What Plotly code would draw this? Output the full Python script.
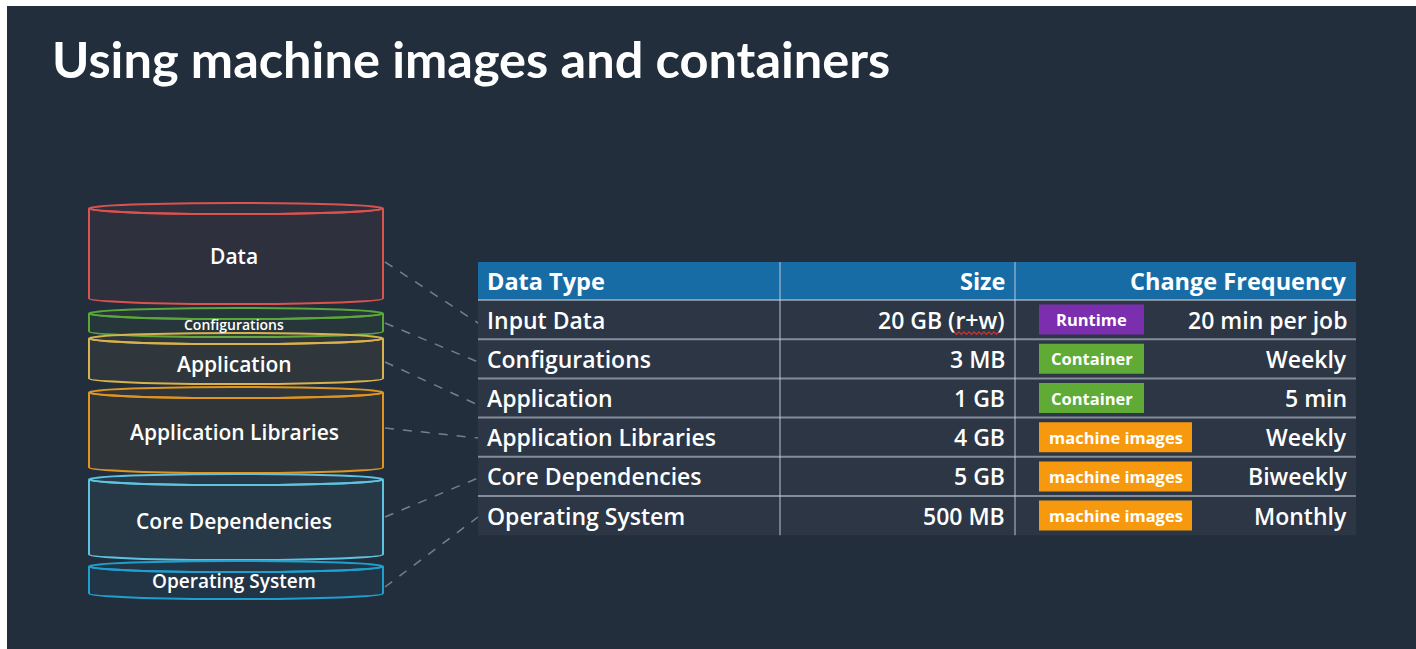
import plotly.graph_objects as go

# ---------------- data ----------------
title_text = "Using machine images and containers"

layer_names = ["Data", "Configurations", "Application", "Application Libraries",
               "Core Dependencies", "Operating System"]

headers = ["Data Type", "Size", "Change Frequency"]
data_types = ["Input Data", "Configurations", "Application", "Application Libraries",
              "Core Dependencies", "Operating System"]
sizes = ["20 GB (r+w)", "3 MB", "1 GB", "4 GB", "5 GB", "500 MB"]
badges = ["Runtime", "Container", "Container", "machine images", "machine images", "machine images"]
frequencies = ["20 min per job", "Weekly", "5 min", "Weekly", "Biweekly", "Monthly"]

# ---------------- layout / style ----------------
W, H = 1416, 649
BG = "#232e3c"
TITLE_FONT = "Lato"
FONT = "Open Sans"

layer_style = {
    "colors": ["#d9534f", "#5aa83a", "#d8b24c", "#df951f", "#5ec3e0", "#1ea0cf"],
    "top": [203, 308, 333, 387, 474, 561],
    "bottom": [304, 337, 384, 473, 560, 599],
    "font_size": [21, 14, 21, 21, 21, 19],
    "label_y": [256, 324, 364, 432, 521, 581],
}
cyl_x0, cyl_x1, ry = 89, 383, 5.5

conn_start = [262, 323, 362, 428, 517, 587]
conn_end = [323, 362, 405, 438, 478, 517]

tbl_x0, tbl_x1 = 478, 1356
col_lines = [780, 1015]
head_y0, head_y1 = 262, 300
row_h = 39.2
col1_x, col2_r, col3_r = 485, 1007, 1349
badge_x0, badge_h = 1039, 30
badge_w = {"Runtime": 105, "Container": 105, "machine images": 153}
badge_col = {"Runtime": "#7b2fae", "Container": "#5fab36", "machine images": "#f7990f"}

fig = go.Figure(go.Scatter(x=[], y=[], hoverinfo="skip"))
shapes, annos = [], []

# slide background
shapes.append(dict(type="rect", x0=7, x1=W, y0=6, y1=H, fillcolor=BG, line=dict(width=0), layer="below"))

# title
annos.append(dict(x=50, y=58, text="<b>" + title_text + "</b>", xanchor="left", yanchor="middle",
                  font=dict(family=TITLE_FONT, size=50.5, color="white")))


def rgba(hexc, a):
    h = hexc.lstrip("#")
    r, g, b = int(h[0:2], 16), int(h[2:4], 16), int(h[4:6], 16)
    return f"rgba({r},{g},{b},{a})"


# cylinders
k = 0.5523
xc = (cyl_x0 + cyl_x1) / 2
rx = (cyl_x1 - cyl_x0) / 2
for i, name in enumerate(layer_names):
    c = layer_style["colors"][i]
    yt = layer_style["top"][i] + ry
    yb = layer_style["bottom"][i] - ry
    body = (f"M {cyl_x0},{yt} L {cyl_x0},{yb} "
            f"C {cyl_x0},{yb + k * ry} {xc - k * rx},{yb + ry} {xc},{yb + ry} "
            f"C {xc + k * rx},{yb + ry} {cyl_x1},{yb + k * ry} {cyl_x1},{yb} "
            f"L {cyl_x1},{yt} "
            f"C {cyl_x1},{yt + k * ry} {xc + k * rx},{yt + ry} {xc},{yt + ry} "
            f"C {xc - k * rx},{yt + ry} {cyl_x0},{yt + k * ry} {cyl_x0},{yt} Z")
    shapes.append(dict(type="path", path=body, fillcolor=rgba(c, 0.07), line=dict(color=c, width=2)))
    shapes.append(dict(type="circle", x0=cyl_x0, x1=cyl_x1, y0=yt - ry, y1=yt + ry,
                       fillcolor=rgba(c, 0.07), line=dict(color=c, width=2)))
    annos.append(dict(x=xc - 2, y=layer_style["label_y"][i], text=name, xanchor="center", yanchor="middle",
                      font=dict(family=FONT, size=layer_style["font_size"][i], color="white", weight=600)))

# connectors
for i in range(len(layer_names)):
    shapes.append(dict(type="line", x0=cyl_x1 + 2, y0=conn_start[i], x1=tbl_x0, y1=conn_end[i],
                       line=dict(color="rgba(140,155,172,0.75)", width=1.5, dash="dash")))

# table
n = len(data_types)
tbl_y1 = head_y1 + n * row_h
shapes.append(dict(type="rect", x0=tbl_x0, x1=tbl_x1, y0=head_y1, y1=tbl_y1,
                   fillcolor="#2c3645", line=dict(width=0)))
shapes.append(dict(type="rect", x0=tbl_x0, x1=tbl_x1, y0=head_y0, y1=head_y1,
                   fillcolor="#176ca6", line=dict(width=0)))
for r in range(n):
    yl = head_y1 + r * row_h
    shapes.append(dict(type="line", x0=tbl_x0, x1=tbl_x1, y0=yl, y1=yl,
                       line=dict(color="rgba(190,200,212,0.6)", width=2)))
for cx in col_lines:
    shapes.append(dict(type="line", x0=cx, x1=cx, y0=head_y0, y1=tbl_y1,
                       line=dict(color="rgba(200,210,222,0.45)", width=2)))

hy = (head_y0 + head_y1) / 2
for txt, x, anc in zip(headers, [col1_x, col2_r, col3_r], ["left", "right", "right"]):
    annos.append(dict(x=x, y=hy, text="<b>" + txt + "</b>", xanchor=anc, yanchor="middle",
                      font=dict(family=FONT, size=23.5, color="white")))

for r in range(n):
    yc = head_y1 + (r + 0.5) * row_h
    for txt, x, anc in [(data_types[r], col1_x, "left"), (sizes[r], col2_r, "right"),
                        (frequencies[r], col3_r, "right")]:
        annos.append(dict(x=x, y=yc, text=txt, xanchor=anc, yanchor="middle",
                          font=dict(family=FONT, size=23, color="white", weight=600)))
    b = badges[r]
    bw = badge_w[b]
    shapes.append(dict(type="rect", x0=badge_x0, x1=badge_x0 + bw, y0=yc - badge_h / 2, y1=yc + badge_h / 2,
                       fillcolor=badge_col[b], line=dict(width=0)))
    annos.append(dict(x=badge_x0 + bw / 2, y=yc, text="<b>" + b + "</b>", xanchor="center", yanchor="middle",
                      font=dict(family=FONT, size=16.5, color="white")))

# spell-check squiggle under "r+w"
sq_y = head_y1 + row_h - 6
pts = []
x = 954
j = 0
while x <= 1000:
    pts.append(f"{x},{sq_y + (1.3 if j % 2 else -1.3)}")
    x += 2.5
    j += 1
shapes.append(dict(type="path", path="M " + " L ".join(pts), line=dict(color="#d0312d", width=1.2)))

fig.update_layout(
    width=W, height=H, margin=dict(l=0, r=0, t=0, b=0),
    paper_bgcolor="white", plot_bgcolor="white", showlegend=False,
    xaxis=dict(range=[0, W], visible=False, fixedrange=True),
    yaxis=dict(range=[H, 0], visible=False, fixedrange=True),
    shapes=shapes, annotations=[dict(a, showarrow=False, xref="x", yref="y") for a in annos],
)
fig.write_html("out.html", config={"displayModeBar": False},
               post_script="document.body.style.margin='0';document.body.style.overflow='hidden';")
